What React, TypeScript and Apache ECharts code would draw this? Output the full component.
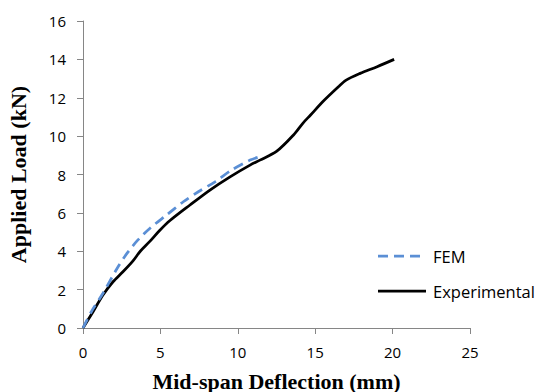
import React, { useEffect, useRef } from "react";
import * as echarts from "echarts";

const seriesNames = ["FEM", "Experimental"];
const xTicks = { min: 0, max: 25, interval: 5 };
const yTicks = { min: 0, max: 16, interval: 2 };

// FEM curve: [deflection (mm), load (kN)]
const femData: [number, number][] = [
  [0, 0], [0.54, 0.85], [1.29, 1.81], [2.2, 3.1], [2.85, 3.9], [3.55, 4.59],
  [4.33, 5.2], [5.4, 5.89], [6.48, 6.58], [7.45, 7.1], [8.53, 7.62],
  [9.6, 8.23], [10.79, 8.75], [11.3, 8.9],
];

// Experimental curve: [deflection (mm), load (kN)]
const expData: [number, number][] = [
  [0, 0], [0.65, 0.85], [1.29, 1.72], [1.94, 2.41], [2.58, 2.93],
  [3.23, 3.5], [3.7, 4.0], [4.3, 4.5], [4.95, 5.08], [5.62, 5.6],
  [6.91, 6.41], [8.2, 7.19], [9.5, 7.88], [10.79, 8.49], [11.43, 8.75],
  [12.5, 9.2], [13.6, 10.06], [14.2, 10.67], [14.7, 11.1], [15.5, 11.8],
  [16.5, 12.57], [17.0, 12.92], [17.9, 13.27], [19.0, 13.62], [20.1, 14.0],
];

const xTitle = "Mid-span Deflection (mm)";
const yTitle = "Applied Load (kN)";

const FEM_COLOR = "#5B8FD5";
const EXP_COLOR = "#000000";

export default function App() {
  const ref = useRef<HTMLDivElement>(null);
  useEffect(() => {
    if (!ref.current) return;
    const chart = echarts.init(ref.current, null, { renderer: "svg" });
    const axisColor = "#868686";
    const tickFont = { fontFamily: "Open Sans", fontSize: 15, color: "#000" };
    const titleFont = {
      fontFamily: "Liberation Serif",
      fontWeight: "bold" as const,
      fontSize: 22,
      color: "#000",
    };
    const legendText = { fontFamily: "Open Sans", fontSize: 16.5, fill: "#000" };
    chart.setOption({
      animation: false,
      backgroundColor: "#fff",
      grid: {
        left: 83,
        right: 66,
        top: 21,
        bottom: 64,
        containLabel: false,
        outerBoundsMode: "none",
      },
      graphic: [
        {
          type: "line",
          shape: { x1: 378, y1: 256, x2: 426, y2: 256 },
          style: { stroke: FEM_COLOR, lineWidth: 2.75, lineDash: [10, 6] },
        },
        {
          type: "text",
          x: 433,
          y: 256,
          style: { ...legendText, text: seriesNames[0], verticalAlign: "middle" },
        },
        {
          type: "line",
          shape: { x1: 378, y1: 291, x2: 426, y2: 291 },
          style: { stroke: EXP_COLOR, lineWidth: 2.75 },
        },
        {
          type: "text",
          x: 433,
          y: 291,
          style: { ...legendText, text: seriesNames[1], verticalAlign: "middle" },
        },
      ],
      xAxis: {
        type: "value",
        min: xTicks.min,
        max: xTicks.max,
        interval: xTicks.interval,
        name: xTitle,
        nameLocation: "middle",
        nameGap: 42,
        nameTextStyle: titleFont,
        axisLine: { show: true, lineStyle: { color: axisColor, width: 1 } },
        axisTick: { show: true, length: 6, lineStyle: { color: axisColor } },
        axisLabel: { ...tickFont, margin: 16 },
        splitLine: { show: false },
      },
      yAxis: {
        type: "value",
        min: yTicks.min,
        max: yTicks.max,
        interval: yTicks.interval,
        name: yTitle,
        nameLocation: "middle",
        nameGap: 54,
        nameTextStyle: titleFont,
        axisLine: { show: true, lineStyle: { color: axisColor, width: 1 } },
        axisTick: { show: true, length: 6, lineStyle: { color: axisColor } },
        axisLabel: { ...tickFont, margin: 17 },
        splitLine: { show: false },
      },
      series: [
        {
          name: seriesNames[0],
          type: "line",
          data: femData,
          symbol: "none",
          smooth: 0.3,
          z: 3,
          lineStyle: { color: FEM_COLOR, width: 2.75, type: [10, 6] },
          itemStyle: { color: FEM_COLOR },
        },
        {
          name: seriesNames[1],
          type: "line",
          data: expData,
          symbol: "none",
          smooth: 0.3,
          z: 2,
          lineStyle: { color: EXP_COLOR, width: 2.75, type: "solid" },
          itemStyle: { color: EXP_COLOR },
        },
      ],
    });
    return () => chart.dispose();
  }, []);
  return (
    <div
      ref={ref}
      style={{ position: "absolute", left: 0, top: 0, width: 536, height: 392 }}
    />
  );
}
